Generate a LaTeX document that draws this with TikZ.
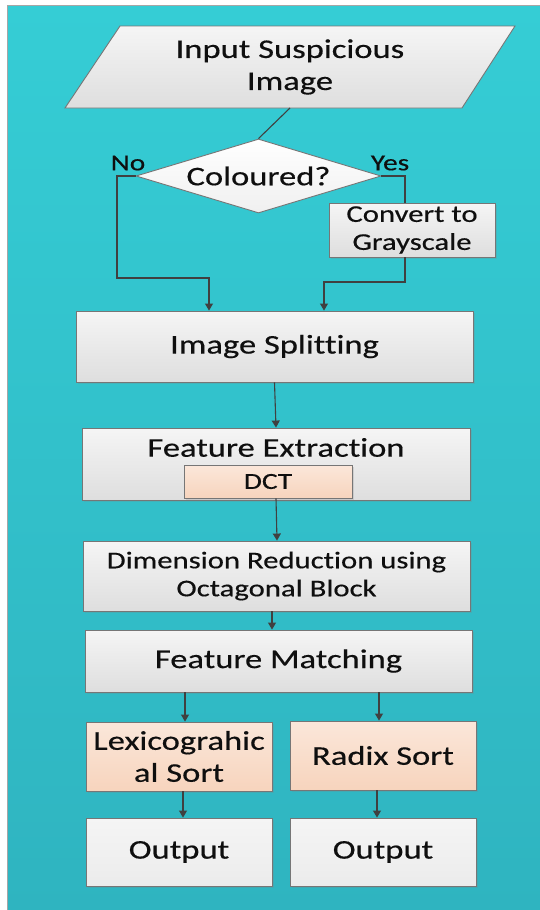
\documentclass[tikz,border=0pt]{standalone}
\usepackage{fontspec}
\setmainfont{Carlito}[FakeStretch=1.28, Ligatures=NoCommon, FakeBold=0.4]
\usetikzlibrary{arrows.meta,shapes.geometric,shadows}
\definecolor{tealtop}{RGB}{53,205,213}
\definecolor{tealbot}{RGB}{47,180,192}
\definecolor{boxtop}{RGB}{245,245,245}
\definecolor{boxbot}{RGB}{222,222,222}
\definecolor{ortop}{RGB}{251,231,218}
\definecolor{orbot}{RGB}{247,212,189}
\definecolor{edgegray}{RGB}{118,118,118}
\definecolor{linec}{RGB}{64,64,64}
\definecolor{txtc}{RGB}{15,15,15}
\newcommand\fbig{\fontsize{27}{32}\selectfont}
\newcommand\fmed{\fontsize{24}{28}\selectfont}
\newcommand\fsml{\fontsize{23}{27}\selectfont}
\tikzset{
  box/.style={draw=edgegray, line width=0.9pt, top color=boxtop, bottom color=boxbot,
    inner sep=0pt, align=center, text=txtc, font=\fbig,
    drop shadow={opacity=0.22, shadow xshift=1.5pt, shadow yshift=-1.5pt}},
  obox/.style={box, top color=ortop, bottom color=orbot},
  wbox/.style={box, top color=boxtop, bottom color=boxtop!96!black},
  lbl/.style={inner sep=0pt, text=txtc, align=center},
  conn/.style={draw=linec, line width=1.1pt},
  arr/.style={conn, -{Triangle[width=8pt,length=7pt]}}
}
\begin{document}
\begin{tikzpicture}[x=1pt,y=-1pt]
\useasboundingbox (0,0) rectangle (539,910);
% background
\shade[top color=tealtop, bottom color=tealbot] (7,5) rectangle (541,912);
\draw[draw=gray!70, line width=0.8pt] (541,5) -- (7,5) -- (7,912);
% input parallelogram
\shade[top color=boxtop, bottom color=boxbot, draw=edgegray, line width=0.9pt]
  (120,26) -- (515,26) -- (462,108) -- (65,108) -- cycle;
\node[lbl, font=\fbig] (inp) at (290,67) {Input Suspicious\\Image};
\coordinate (inpb) at (290,108);
% decision
\node[diamond, draw=edgegray, line width=0.9pt, top color=white, bottom color=gray!12,
  inner sep=0pt, minimum width=245pt, minimum height=74pt, aspect=3.3,
  font=\fbig, text=txtc] (dia) at (258.5,176) {Coloured?};
\node[lbl, font=\fsml] (no) at (128,163) {No};
\node[lbl, font=\fsml] (yes) at (390,163) {Yes};
\node[box, font=\fmed, minimum width=166pt, minimum height=54pt] (conv) at (412,230) {Convert to\\Grayscale};
% main column
\node[box, minimum width=397pt, minimum height=71pt] (split) at (274.5,346.5) {Image Splitting};
\node[box, minimum width=388pt, minimum height=72pt] (featx) at (276,464) {};
\node[lbl, font=\fbig] (featxt) at (276,447.5) {Feature Extraction};
\node[obox, font=\fsml, minimum width=168pt, minimum height=33pt] (dct) at (268,481.5) {DCT};
\node[box, font=\fmed, minimum width=387pt, minimum height=70pt] (dim) at (276.5,576) {Dimension Reduction using\\Octagonal Block};
\node[box, minimum width=387pt, minimum height=62pt] (fm) at (278.5,661) {Feature Matching};
\node[obox, minimum width=186pt, minimum height=69pt] (lex) at (179,756.5) {Lexicograhic\\al Sort};
\node[obox, minimum width=186pt, minimum height=69pt] (radix) at (383,755.5) {Radix Sort};
\node[wbox, minimum width=186pt, minimum height=68pt] (out1) at (179,852) {Output};
\node[wbox, minimum width=186pt, minimum height=68pt] (out2) at (383,852) {Output};
% connectors
\coordinate (no1) at (117,278);
\coordinate (no2) at (209,278);
\coordinate (ye1) at (405,282);
\coordinate (ye2) at (324,282);
\draw[conn] (inpb) -- (dia.north);
\draw[arr] (dia.west) -| (no1) -- (no2) -- (no2 |- split.north);
\draw[conn] (dia.east) -| (conv.north -| ye1);
\draw[arr] (conv.south -| ye1) -- (ye1) -- (ye2) -- (ye2 |- split.north);
\draw[arr] (split.south) -- ([xshift=1.5pt]split.south |- featx.north);
\draw[arr] ([xshift=8pt]dct.south) -- ([xshift=9pt]dct.south |- dim.north);
\draw[arr] ([xshift=-4.5pt]dim.south) -- ([xshift=-4.5pt]dim.south |- fm.north);
\draw[arr] ([xshift=6pt]lex.north |- fm.south) -- ([xshift=6pt]lex.north);
\draw[arr] ([xshift=-4pt]radix.north |- fm.south) -- ([xshift=-4pt]radix.north);
\draw[arr] ([xshift=4pt]lex.south) -- ([xshift=4pt]out1.north);
\draw[arr] ([xshift=-6pt]radix.south) -- ([xshift=-6pt]radix.south |- out2.north);
\end{tikzpicture}
\end{document}
